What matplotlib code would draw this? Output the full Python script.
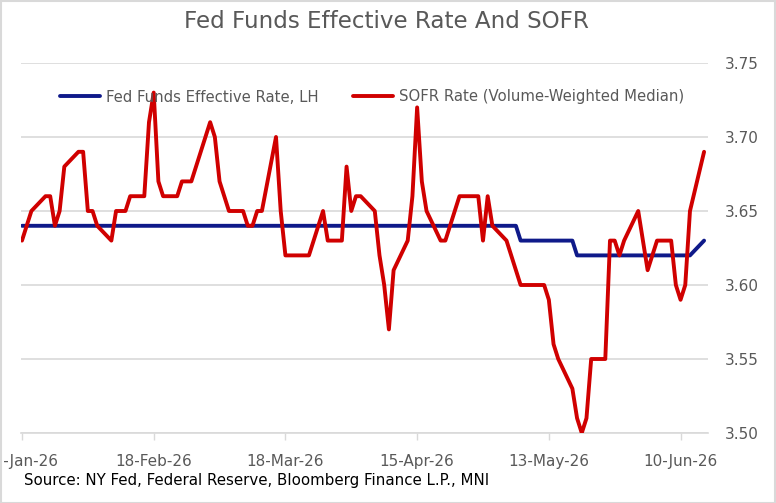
import matplotlib
matplotlib.use("Agg")
import matplotlib.pyplot as plt
import matplotlib.dates as mdates
from matplotlib.patches import Rectangle
import pandas as pd

# Weekday dates 21-Jan-26 .. 15-Jun-26
dates = pd.bdate_range("2026-01-21", "2026-06-15")

effr = [
    # Jan
    3.64, 3.64, 3.64, 3.64, 3.64, 3.64, 3.64, 3.64,
    # Feb
    3.64, 3.64, 3.64, 3.64, 3.64, 3.64, 3.64, 3.64, 3.64, 3.64,
    3.64, 3.64, 3.64, 3.64, 3.64, 3.64, 3.64, 3.64, 3.64, 3.64,
    # Mar
    3.64, 3.64, 3.64, 3.64, 3.64, 3.64, 3.64, 3.64, 3.64, 3.64, 3.64,
    3.64, 3.64, 3.64, 3.64, 3.64, 3.64, 3.64, 3.64, 3.64, 3.64, 3.64,
    # Apr
    3.64, 3.64, 3.64, 3.64, 3.64, 3.64, 3.64, 3.64, 3.64, 3.64, 3.64,
    3.64, 3.64, 3.64, 3.64, 3.64, 3.64, 3.64, 3.64, 3.64, 3.64, 3.64,
    # May
    3.64, 3.64, 3.64, 3.64, 3.63, 3.63, 3.63, 3.63, 3.63, 3.63, 3.63,
    3.63, 3.62, 3.62, 3.62, 3.62, 3.62, 3.62, 3.62, 3.62, 3.62,
    # Jun
    3.62, 3.62, 3.62, 3.62, 3.62, 3.62, 3.62, 3.62, 3.62, 3.62, 3.63,
]

sofr = [
    # Jan
    3.63, 3.64, 3.65, 3.66, 3.66, 3.64, 3.65, 3.68,
    # Feb
    3.69, 3.69, 3.65, 3.65, 3.64, 3.63, 3.65, 3.65, 3.65, 3.66,
    3.66, 3.71, 3.73, 3.67, 3.66, 3.66, 3.67, 3.67, 3.67, 3.68,
    # Mar
    3.71, 3.70, 3.67, 3.66, 3.65, 3.65, 3.64, 3.64, 3.65, 3.65, 3.70,
    3.65, 3.62, 3.62, 3.62, 3.62, 3.63, 3.64, 3.65, 3.63, 3.63, 3.68,
    # Apr
    3.65, 3.66, 3.66, 3.65, 3.62, 3.60, 3.57, 3.61, 3.63, 3.66, 3.72,
    3.67, 3.65, 3.63, 3.63, 3.64, 3.65, 3.66, 3.66, 3.66, 3.63, 3.66,
    # May
    3.64, 3.63, 3.62, 3.61, 3.60, 3.60, 3.60, 3.60, 3.59, 3.56, 3.55,
    3.53, 3.51, 3.50, 3.51, 3.55, 3.55, 3.63, 3.63, 3.62, 3.63,
    # Jun
    3.65, 3.63, 3.61, 3.62, 3.63, 3.63, 3.60, 3.59, 3.60, 3.65, 3.69,
]

y_ticks = [3.50, 3.55, 3.60, 3.65, 3.70, 3.75]
x_ticks = pd.date_range("2026-01-21", periods=6, freq="28D")

title = "Fed Funds Effective Rate And SOFR"
label_effr = "Fed Funds Effective Rate, LH"
label_sofr = "SOFR Rate (Volume-Weighted Median)"
source = "Source: NY Fed, Federal Reserve, Bloomberg Finance L.P., MNI"

GRAY = "#595959"
GRID = "#D9D9D9"

plt.rcParams["font.family"] = ["DejaVu Sans"]

W, H = 776, 503
fig = plt.figure(figsize=(W / 100, H / 100), dpi=100)
ax = fig.add_axes([21 / W, (H - 433) / H, (708 - 21) / W, (433 - 63) / H])

ax.plot(dates, effr, color="#0F1A8A", lw=2.8, label=label_effr,
        solid_joinstyle="round", solid_capstyle="round", zorder=3)
ax.plot(dates, sofr, color="#D00000", lw=2.8, label=label_sofr,
        solid_joinstyle="round", solid_capstyle="round", zorder=4)

ax.set_ylim(3.50, 3.75)
ax.set_yticks(y_ticks)
ax.set_yticklabels([f"{v:.2f}" for v in y_ticks])
ax.set_xlim(pd.Timestamp("2026-01-21") - pd.Timedelta(hours=5),
            pd.Timestamp("2026-06-15") + pd.Timedelta(hours=20))
ax.set_xticks(x_ticks)
ax.xaxis.set_major_formatter(mdates.DateFormatter("%d-%b-%y"))

ax.yaxis.tick_right()
ax.tick_params(axis="y", length=0, pad=12, labelsize=11, labelcolor=GRAY)
ax.tick_params(axis="x", length=5, width=1, color=GRID, pad=10,
               labelsize=11, labelcolor=GRAY)

ax.grid(axis="y", color=GRID, lw=1.2)
ax.set_axisbelow(True)
for s in ["top", "left", "right"]:
    ax.spines[s].set_visible(False)
ax.spines["bottom"].set_color(GRID)
ax.spines["bottom"].set_linewidth(1.2)
ax.spines["bottom"].set_zorder(1)

leg = ax.legend(loc="center", bbox_to_anchor=(372 / W, (H - 97) / H),
                bbox_transform=fig.transFigure, ncol=2, frameon=False,
                fontsize=10.7, handlelength=2.7, handletextpad=0.4,
                columnspacing=2.35, borderpad=0, borderaxespad=0)
for t in leg.get_texts():
    t.set_color(GRAY)

fig.text(386 / W, (H - 22) / H, title, ha="center", va="center",
         fontsize=16.6, color=GRAY)
fig.text(24 / W, (H - 481) / H, source, ha="left", va="center",
         fontsize=10.8, color="black")

fig.patches.append(Rectangle((0.5 / W, 0.5 / H), 1 - 1.5 / W, 1 - 1.5 / H,
                             transform=fig.transFigure, fill=False,
                             edgecolor=GRID, lw=1.5))

fig.savefig("out.png", dpi=100)
